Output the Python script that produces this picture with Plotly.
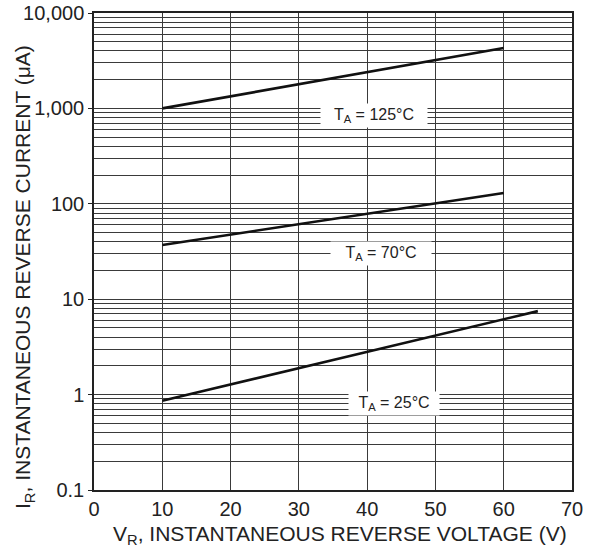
import math
import plotly.graph_objects as go

# Reverse leakage current vs reverse voltage, three ambient temperatures
v_125 = [10, 60]
i_125 = [1000, 4300]
v_70 = [10, 60]
i_70 = [37, 130]
v_25 = [10, 65]
i_25 = [0.86, 7.5]

curve_labels = ["T<sub>A</sub> = 125°C", "T<sub>A</sub> = 70°C", "T<sub>A</sub> = 25°C"]
label_x = [41, 42, 43.9]
label_y = [850, 29.8, 0.80]
label_box_w = [104, 98, 88]

x_ticks = [0, 10, 20, 30, 40, 50, 60, 70]
y_ticks = [0.1, 1, 10, 100, 1000, 10000]
y_tick_text = ["0.1", "1", "10", "100", "1,000", "10,000"]
y_minor = [m * d for d in [0.1, 1, 10, 100, 1000] for m in range(2, 10)]

FONT = "Liberation Sans, Arial, sans-serif"
GRID = "#3a3a3a"
INK = "#222222"

fig = go.Figure()
for xs, ys in [(v_125, i_125), (v_70, i_70), (v_25, i_25)]:
    fig.add_trace(go.Scatter(x=xs, y=ys, mode="lines",
                             line=dict(color="#111111", width=2.6),
                             showlegend=False, hoverinfo="skip"))

# temperature labels sit on white boxes that mask the grid behind them
for txt, lx, ly, bw in zip(curve_labels, label_x, label_y, label_box_w):
    fig.add_annotation(x=lx, y=math.log10(ly), xref="x", yref="y", text=txt,
                       showarrow=False, bgcolor="white", width=bw, height=21,
                       font=dict(family=FONT, size=16, color=INK))

# axis titles
fig.add_annotation(xref="paper", yref="paper", x=-0.146, y=0.447,
                   xanchor="center", yanchor="middle",
                   text="I<sub>R</sub>, INSTANTANEOUS REVERSE CURRENT (μA)",
                   textangle=-90, showarrow=False,
                   font=dict(family=FONT, size=21, color=INK))
fig.add_annotation(xref="paper", yref="paper", x=0.515, y=-0.094,
                   xanchor="center", yanchor="middle",
                   text="V<sub>R</sub>, INSTANTANEOUS REVERSE VOLTAGE (V)",
                   showarrow=False,
                   font=dict(family=FONT, size=21, color=INK))

fig.update_xaxes(range=[0, 70], tickvals=x_ticks, ticks="", automargin=False,
                 showgrid=True, gridcolor=GRID, gridwidth=1,
                 showline=True, linecolor=INK, linewidth=1.5, mirror=True,
                 zeroline=False,
                 tickfont=dict(family=FONT, size=20, color=INK))
fig.update_yaxes(type="log", range=[-1, 4], tickvals=y_ticks, ticktext=y_tick_text,
                 ticks="outside", ticklen=4, tickcolor=INK, automargin=False,
                 showgrid=True, gridcolor=GRID, gridwidth=1,
                 minor=dict(tickvals=y_minor, showgrid=True, gridcolor=GRID,
                            gridwidth=1, ticks=""),
                 showline=True, linecolor=INK, linewidth=1.5, mirror=True,
                 zeroline=False,
                 tickfont=dict(family=FONT, size=20, color=INK))

fig.update_layout(width=594, height=554, plot_bgcolor="white", paper_bgcolor="white",
                  margin=dict(l=94, r=22, t=13, b=64))

fig.write_html("out.html")
